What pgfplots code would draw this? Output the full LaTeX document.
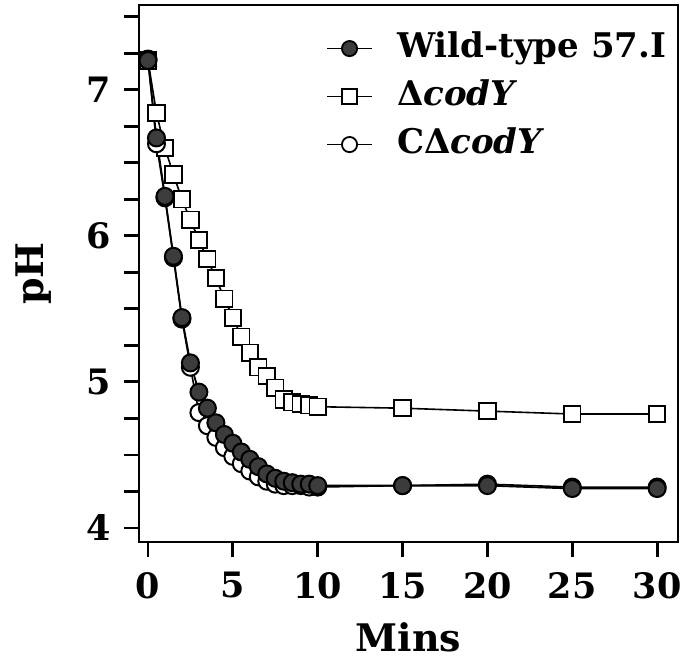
\documentclass[border=0pt]{standalone}
\usepackage{fontspec}
\setmainfont{DejaVu Serif}
\usepackage{pgfplots}
\pgfplotsset{compat=1.18}
\definecolor{wtfill}{HTML}{3C3C3C}
\pgfplotstableread{
t ph
0 7.20
0.5 6.67
1 6.27
1.5 5.86
2 5.44
2.5 5.13
3 4.93
3.5 4.82
4 4.72
4.5 4.64
5 4.58
5.5 4.52
6 4.47
6.5 4.42
7 4.37
7.5 4.34
8 4.32
8.5 4.31
9 4.30
9.5 4.30
10 4.29
15 4.29
20 4.29
25 4.27
30 4.27
}\wt
\pgfplotstableread{
t ph
0 7.20
0.5 6.84
1 6.60
1.5 6.42
2 6.25
2.5 6.11
3 5.97
3.5 5.84
4 5.71
4.5 5.57
5 5.44
5.5 5.31
6 5.20
6.5 5.10
7 5.04
7.5 4.96
8 4.88
8.5 4.86
9 4.85
9.5 4.84
10 4.83
15 4.82
20 4.80
25 4.78
30 4.78
}\cody
\pgfplotstableread{
t ph
0 7.21
0.5 6.63
1 6.26
1.5 5.85
2 5.43
2.5 5.10
3 4.79
3.5 4.70
4 4.62
4.5 4.55
5 4.49
5.5 4.44
6 4.39
6.5 4.35
7 4.32
7.5 4.30
8 4.29
8.5 4.29
9 4.29
9.5 4.28
10 4.28
15 4.29
20 4.30
25 4.28
30 4.28
}\ccody
\begin{document}
\begin{tikzpicture}
\begin{axis}[
  name=ax,
  scale only axis,
  width=269.5pt, height=268.5pt,
  xmin=-0.53, xmax=31.23,
  ymin=3.904, ymax=7.58,
  axis line style={line width=1.4pt},
  every tick/.style={line width=1.4pt, black},
  tick align=outside,
  major tick length=7.5pt,
  minor tick length=7.5pt,
  xtick={0,5,...,30},
  ytick={4,5,6,7},
  minor ytick={4.25,4.5,4.75,5.25,5.5,5.75,6.25,6.5,6.75,7.25,7.5},
  xtick pos=bottom, ytick pos=left,
  /pgf/number format/assume math mode=true,
  ticklabel style={font=\bfseries\fontsize{17.5}{20}\selectfont},
  xticklabel style={yshift=-4pt},
  yticklabel style={xshift=-3pt},
  xlabel={Mins}, ylabel={pH},
  label style={font=\bfseries\fontsize{19}{22}\selectfont},
  xlabel style={yshift=-5pt},
  ylabel style={yshift=10.5pt},
  legend style={draw=none, fill=none, at={(0.335,0.955)}, anchor=north west,
    font=\bfseries\fontsize{17}{20}\selectfont,
    nodes={inner sep=0pt, text height=12pt, text depth=3pt},
    row sep=9pt,
    /tikz/every odd column/.append style={column sep=12pt}},
  legend cell align=left,
  legend image code/.code={\draw[mark repeat=2,mark phase=2] plot coordinates {(0cm,0cm) (0.4cm,0cm) (0.8cm,0cm)};},
]
\addlegendimage{black, line width=0.8pt, mark=*, mark size=3.8pt, mark options={fill=wtfill, line width=0.9pt}}
\addlegendentry{Wild-type 57.I}
\addlegendimage{black, line width=0.8pt, mark=square*, mark size=3.6pt, mark options={fill=white, line width=0.9pt}}
\addlegendentry{Δ\textit{codY}}
\addlegendimage{black, line width=0.8pt, mark=*, mark size=3.8pt, mark options={fill=white, line width=0.9pt}}
\addlegendentry{CΔ\textit{codY}}
\addplot[forget plot, black, line width=0.8pt, mark=square*, mark size=4.1pt, mark options={fill=white, line width=0.9pt}] table[x=t,y=ph] {\cody};
\addplot[forget plot, black, line width=0.8pt, mark=*, mark size=4.25pt, mark options={fill=white, line width=1pt}] table[x=t,y=ph] {\ccody};
\addplot[forget plot, black, line width=0.9pt, mark=*, mark size=4.25pt, mark options={fill=wtfill, line width=1pt}] table[x=t,y=ph] {\wt};
\end{axis}
\pgfresetboundingbox
\path[use as bounding box] ([xshift=-69.5pt,yshift=-61pt]ax.south west) rectangle ([xshift=3.5pt,yshift=2.5pt]ax.north east);
\end{tikzpicture}
\end{document}
